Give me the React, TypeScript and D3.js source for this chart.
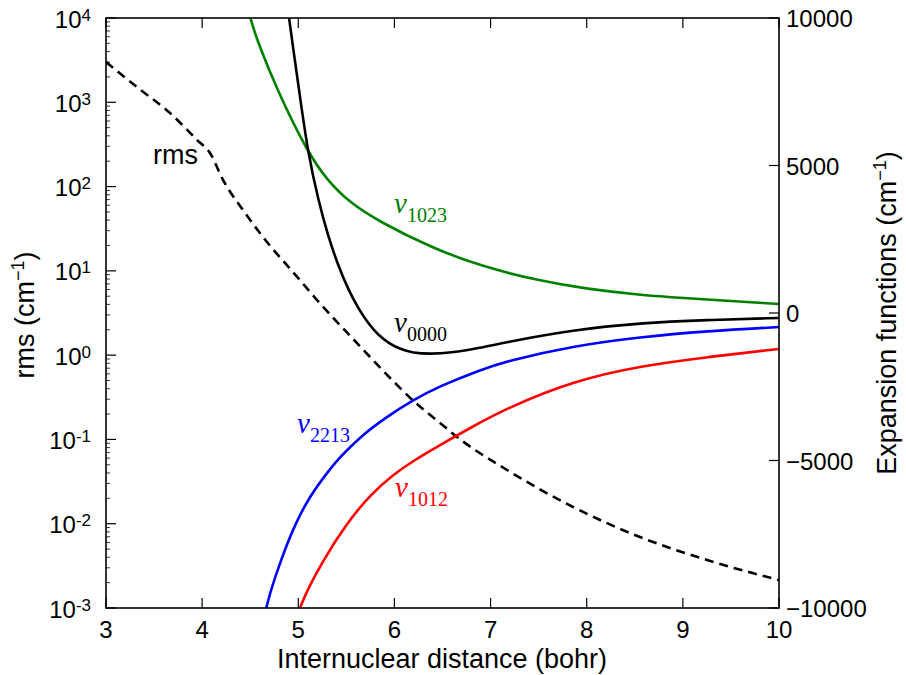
import React from "react";
import * as d3 from "d3";

const W = 906, H = 675;
const M = { left: 106, right: 779, top: 18, bottom: 608 };

const rmsX = [3.0, 3.354, 3.666, 3.947, 4.082, 4.217, 4.425, 4.633, 5.0, 5.195, 5.611, 6.027, 6.193, 6.474, 6.651, 7.171, 7.858, 8.554, 9.251, 10.0];
const rmsV = [3006, 1420, 746, 357, 250, 120, 52.7, 25.2, 8.2, 4.5, 1.39, 0.443, 0.29, 0.157, 0.107, 0.0434, 0.0158, 0.00695, 0.00371, 0.00215];

const v1023X = [4.46, 4.498, 4.571, 4.779, 5.101, 5.299, 5.538, 5.85, 6.37, 6.89, 7.514, 8.003, 8.554, 9.002, 10.0];
const v1023V = [10700, 10000, 9254, 7559, 5424, 4508, 3729, 3085, 2237, 1593, 1085, 814, 610, 508, 305];

const v0000X = [4.88, 4.903, 4.935, 5.018, 5.101, 5.205, 5.309, 5.413, 5.517, 5.621, 5.725, 5.829, 5.954, 6.058, 6.193, 6.37, 6.578, 6.89, 7.171, 7.857, 8.554, 9.251, 10.0];
const v0000V = [10700, 10000, 9254, 7322, 5424, 3864, 2610, 1627, 814, 169, -339, -746, -1051, -1220, -1356, -1390, -1356, -1186, -983, -576, -339, -237, -169];

const v2213X = [4.62, 4.654, 4.81, 4.966, 5.122, 5.288, 5.434, 5.642, 5.902, 6.193, 6.474, 6.89, 7.171, 7.857, 8.554, 9.251, 10.0];
const v2213V = [-11000, -10000, -8441, -7152, -6203, -5458, -4881, -4203, -3559, -2949, -2475, -1932, -1627, -1119, -814, -610, -475];

const v1012X = [4.96, 4.997, 5.257, 5.507, 5.746, 5.996, 6.193, 6.474, 6.786, 7.171, 7.857, 8.554, 9.251, 10.0];
const v1012V = [-10800, -10000, -8373, -7119, -6169, -5458, -5017, -4475, -3898, -3220, -2305, -1797, -1492, -1220];

const xTicks = [3, 4, 5, 6, 7, 8, 9, 10];
const leftExps = [-3, -2, -1, 0, 1, 2, 3, 4];
const rightTicks = [-10000, -5000, 0, 5000, 10000];

const SANS = "'Liberation Sans', Arial, sans-serif";
const SERIF = "'Liberation Serif', 'Times New Roman', serif";

export default function App() {
  const x = d3.scaleLinear().domain([3, 10]).range([M.left, M.right]);
  const yL = d3.scaleLog().domain([1e-3, 1e4]).range([M.bottom, M.top]);
  const yR = d3.scaleLinear().domain([-10000, 10000]).range([M.bottom, M.top]);

  const lineR = (xs: number[], vs: number[]) =>
    d3.line<number>().x((_, i) => x(xs[i])).y((v) => yR(v)).curve(d3.curveBasis)(vs) || "";
  const rmsPath =
    d3.line<number>().x((_, i) => x(rmsX[i])).y((v) => yL(v)).curve(d3.curveMonotoneX)(rmsV) || "";

  const minor: number[] = [];
  for (let e = -3; e < 4; e++) for (let k = 2; k <= 9; k++) minor.push(k * Math.pow(10, e));

  const curves = [
    { xs: v1023X, vs: v1023V, c: "#008000" },
    { xs: v0000X, vs: v0000V, c: "#000000" },
    { xs: v2213X, vs: v2213V, c: "#0000ff" },
    { xs: v1012X, vs: v1012V, c: "#ff0000" },
  ];

  const labels = [
    { t: "1023", x: 394, y: 213, c: "#008000" },
    { t: "0000", x: 394, y: 332, c: "#000000" },
    { t: "2213", x: 297, y: 433, c: "#0000ff" },
    { t: "1012", x: 395, y: 497, c: "#ff0000" },
  ];

  return (
    <svg width={W} height={H} style={{ position: "absolute", left: 0, top: 0, background: "#fff" }}>
      <defs>
        <clipPath id="plotclip">
          <rect x={M.left} y={M.top} width={M.right - M.left} height={M.bottom - M.top} />
        </clipPath>
      </defs>
      <g clipPath="url(#plotclip)">
        <path d={rmsPath} fill="none" stroke="#000" strokeWidth={2.6} strokeDasharray="9,6" />
        {curves.map((cv, i) => (
          <path key={i} d={lineR(cv.xs, cv.vs)} fill="none" stroke={cv.c} strokeWidth={2.6} />
        ))}
      </g>
      <rect x={M.left} y={M.top} width={M.right - M.left} height={M.bottom - M.top} fill="none" stroke="#000" strokeWidth={1.6} />
      {xTicks.map((t) => (
        <g key={"xt" + t}>
          <line x1={x(t)} x2={x(t)} y1={M.bottom} y2={M.bottom - 10} stroke="#000" strokeWidth={1.2} />
          <line x1={x(t)} x2={x(t)} y1={M.top} y2={M.top + 10} stroke="#000" strokeWidth={1.2} />
          <text x={x(t)} y={638} textAnchor="middle" fontFamily={SANS} fontSize={24}>{t}</text>
        </g>
      ))}
      {leftExps.map((e) => {
        const yy = yL(Math.pow(10, e));
        return (
          <g key={"yl" + e}>
            <line x1={M.left} x2={M.left + 10} y1={yy} y2={yy} stroke="#000" strokeWidth={1.2} />
            <text x={91} y={yy + 9.5} textAnchor="end" fontFamily={SANS} fontSize={24}>
              10<tspan dy={-7} fontSize={17}>{e}</tspan>
            </text>
          </g>
        );
      })}
      {minor.map((m, i) => (
        <line key={"mn" + i} x1={M.left} x2={M.left + 4} y1={yL(m)} y2={yL(m)} stroke="#000" strokeWidth={0.8} />
      ))}
      {rightTicks.map((t) => (
        <g key={"yr" + t}>
          <line x1={M.right} x2={M.right - 10} y1={yR(t)} y2={yR(t)} stroke="#000" strokeWidth={1.2} />
          <text x={786} y={yR(t) + 9} fontFamily={SANS} fontSize={24}>
            {t < 0 ? "\u2212" + Math.abs(t) : String(t)}
          </text>
        </g>
      ))}
      <text x={442} y={668} textAnchor="middle" fontFamily={SANS} fontSize={27}>Internuclear distance (bohr)</text>
      <text transform={`translate(34,315) rotate(-90)`} textAnchor="middle" fontFamily={SANS} fontSize={27}>
        rms (cm<tspan dy={-10} fontSize={18}>{"\u2212"}1</tspan><tspan dy={10}>)</tspan>
      </text>
      <text transform={`translate(896,313) rotate(-90)`} textAnchor="middle" fontFamily={SANS} fontSize={27}>
        Expansion functions (cm<tspan dy={-10} fontSize={18}>{"\u2212"}1</tspan><tspan dy={10}>)</tspan>
      </text>
      <text x={153} y={164} fontFamily={SANS} fontSize={27}>rms</text>
      {labels.map((l) => (
        <text key={l.t} x={l.x} y={l.y} fill={l.c} fontFamily={SERIF} fontSize={29}>
          <tspan fontStyle="italic">v</tspan>
          <tspan dy={9} fontSize={20}>{l.t}</tspan>
        </text>
      ))}
    </svg>
  );
}
